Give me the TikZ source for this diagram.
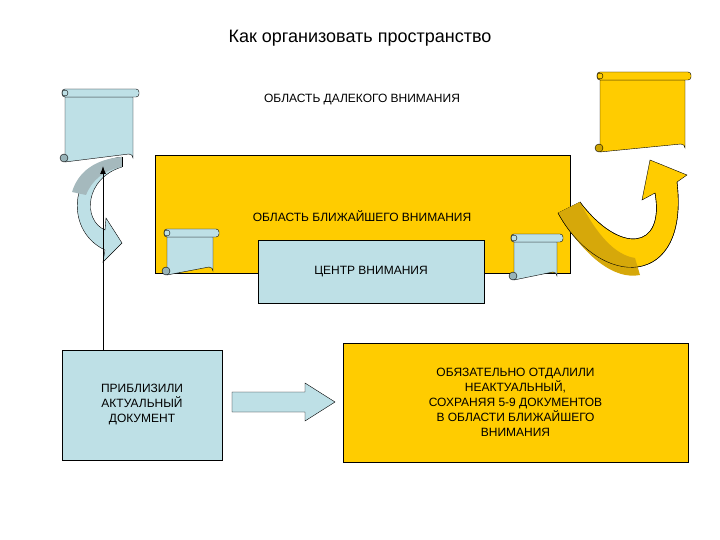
\documentclass[tikz,border=0pt]{standalone}
\usepackage{fontspec}
\setmainfont{Liberation Sans}
\usetikzlibrary{arrows.meta}
\definecolor{lb}{RGB}{190,224,230}
\definecolor{yl}{RGB}{255,204,0}
\definecolor{dy}{RGB}{214,168,10}
\newcommand\myscroll[5]{%
  \draw[fill=#5] (#1,#2) -- (#3,#2) -- (#3,#4-4) arc[start angle=0,end angle=-90,radius=4] -- (#1,#4) -- cycle;
  \draw[fill=#5,rounded corners=3] (#1-3,#2-8) rectangle (#3+6,#2);
  \draw[fill=#5] (#1,#2-4) circle[radius=3];
  \draw[fill=#5!80!black] (#1-1,#4-4) circle[radius=4];
}
\begin{document}
\begin{tikzpicture}[x=1pt,y=-1pt,
  txt/.style={font=\fontsize{12}{15}\selectfont,align=center},
  box/.style={draw,inner sep=0pt}]
\useasboundingbox (0,0) rectangle (720,540);
\node[font=\fontsize{18}{22}\selectfont] (title) at (360,38) {Как организовать пространство};
\node[txt] (far) at (362,100) {ОБЛАСТЬ ДАЛЕКОГО ВНИМАНИЯ};
\draw[fill=yl] (155,155) rectangle (570,273);
\node[txt] (near) at (362,216) {ОБЛАСТЬ БЛИЖАЙШЕГО ВНИМАНИЯ};
\draw[fill=lb] (258,240) rectangle (484,303);
\node[txt] (center) at (371,272) {ЦЕНТР ВНИМАНИЯ};
\myscroll{167}{237}{213}{275}{lb}
\myscroll{514}{242}{557}{280}{lb}
\myscroll{65}{97}{133}{162}{lb}
\myscroll{600}{80}{685}{152}{yl}
% curved arrow left
\draw[fill=lb] (122,157) .. controls (70,162) and (62,230) .. (105,250) -- (103,262) -- (122,243) -- (106,218) -- (105,230) .. controls (82,220) and (85,178) .. (122,167) -- cycle;
\fill[lb!60!gray] (122,157) .. controls (95,159) and (78,172) .. (72,192) -- (86,195) .. controls (92,180) and (104,170) .. (122,167) -- cycle;
\draw (122,157) -- (122,167);
% curved arrow right
\draw[fill=yl] (558,213) .. controls (600,290) and (690,290) .. (677,182) -- (687,175) -- (650,160) -- (642,200) -- (655,193) .. controls (665,250) and (620,255) .. (580,202) -- cycle;
\fill[dy] (558,213) .. controls (585,258) and (615,280) .. (640,275) -- (635,258) .. controls (615,255) and (597,235) .. (580,202) -- cycle;
\draw (558,213) .. controls (600,290) and (690,290) .. (677,182);
\draw (580,202) .. controls (620,255) and (665,250) .. (655,193);
% bottom boxes
\node[box,fill=lb,minimum width=160,minimum height=110,txt] (lbox) at (142,405) {ПРИБЛИЗИЛИ\\АКТУАЛЬНЫЙ\\ДОКУМЕНТ};
\coordinate (s1) at (103,166);
\draw[-{Latex[length=8,width=6]},line width=1pt] (lbox.north -| s1) -- (s1);
\node[box,fill=yl,minimum width=345,minimum height=119,txt] (rbox) at (515.5,402.5) {ОБЯЗАТЕЛЬНО ОТДАЛИЛИ\\НЕАКТУАЛЬНЫЙ,\\СОХРАНЯЯ 5-9 ДОКУМЕНТОВ\\В ОБЛАСТИ БЛИЖАЙШЕГО\\ВНИМАНИЯ};
\draw[fill=lb] (232,392) -- (305,392) -- (305,383) -- (335,402) -- (305,421) -- (305,412) -- (232,412) -- cycle;
\end{tikzpicture}
\end{document}
